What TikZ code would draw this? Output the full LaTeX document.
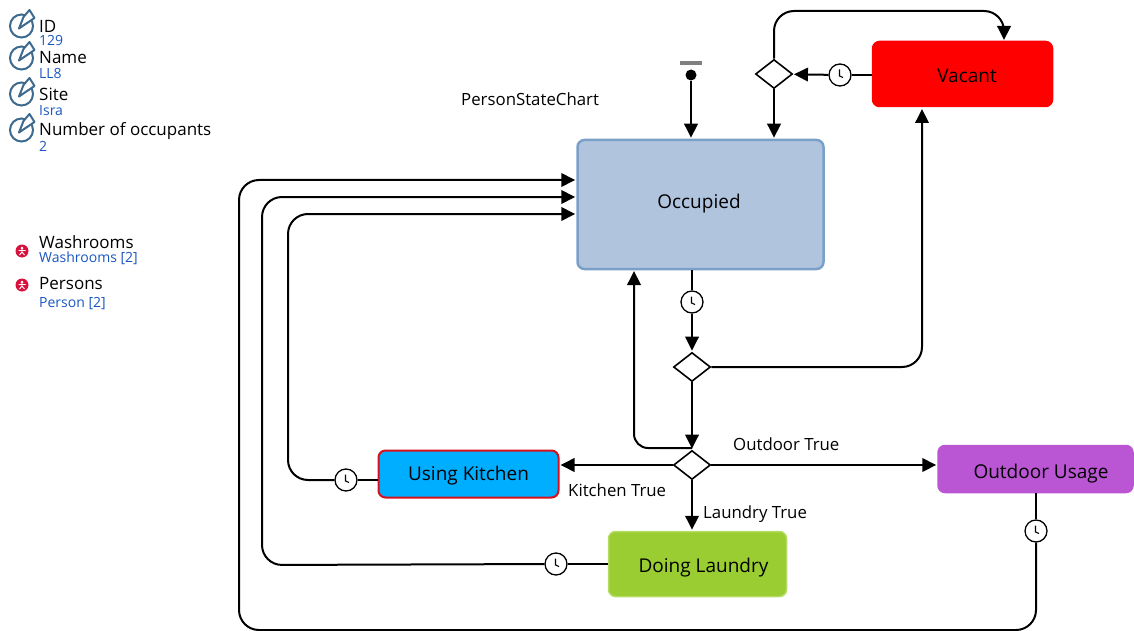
\documentclass[tikz,border=0pt]{standalone}
\usepackage{fontspec}
\setmainfont{Open Sans}
\usepackage{tikz}
\usetikzlibrary{shapes.geometric, arrows.meta}

\definecolor{occfill}{HTML}{B0C4DE}
\definecolor{occline}{HTML}{7BA0C8}
\definecolor{kitfill}{HTML}{00AEFF}
\definecolor{kitline}{HTML}{D8101C}
\definecolor{laufill}{HTML}{9ACD32}
\definecolor{lauline}{HTML}{B4DC64}
\definecolor{outfill}{HTML}{BA55D3}
\definecolor{iconblue}{HTML}{3D6A8F}
\definecolor{valblue}{HTML}{1A56C0}
\definecolor{agentred}{HTML}{D8103C}

\begin{document}
\begin{tikzpicture}[
            x=1pt, y=-1pt,
            >={Triangle[length=14pt, width=13.5pt]},
            % Styles
            state/.style={rectangle, draw, rounded corners=7pt, line width=1.5pt, align=center, inner sep=0pt, font=\fontsize{19}{22}\selectfont},
            choice/.style={diamond, draw, fill=white, line width=1.6pt, inner sep=0pt, minimum width=37pt, minimum height=29pt},
            timer/.style={circle, draw, fill=white, line width=1.3pt, inner sep=0pt, minimum size=22pt,
                path picture={\draw [line width=1.1pt] ([xshift=-0.5pt, yshift=5.5pt]path picture bounding box.center) -- ([xshift=-0.5pt, yshift=-1pt]path picture bounding box.center) -- ([xshift=3pt, yshift=-2.5pt]path picture bounding box.center);}},
            arrow/.style={line width=2pt, ->, shorten >=1pt},
            link/.style={line width=2pt, rounded corners=20pt},
            attr/.style={anchor=west, inner sep=0pt, font=\fontsize{17}{20}\selectfont},
            attrval/.style={anchor=west, inner sep=0pt, text=valblue, font=\fontsize{14}{16}\selectfont},
            tag/.style={anchor=west, inner sep=0pt, font=\fontsize{16.8}{19}\selectfont},
            attricon/.pic={
                \draw [iconblue, line width=2pt] (0,0) circle (11.5pt);
                \draw [iconblue, line width=2pt, fill=white, line join=round] (-2.5,2.5) -- (2,-9) -- (8,-16) -- (13,-8) -- cycle;
            },
            agenticon/.pic={
                \fill [agentred] (0,0) circle (6.5pt);
                \fill [white] (0,-3) circle (1.5pt);
                \draw [white, line width=0.9pt] (-3.5,-0.5) -- (3.5,-0.5) (0,-2) -- (0,1) (-2.5,4) -- (0,1) -- (2.5,4);
            }
        ]
        \useasboundingbox (0,0) rectangle (1134,631);

        % --- ATTRIBUTES ---
        \foreach \k/\yi/\yl/\yv/\attrname/\attrtext in {id/26/26/41/ID/129, name/58/58/74/Name/LL8, site/94/94.5/111/Site/Isra, occ/130/131.5/146.5/Number of occupants/2} {
            \pic at (21.5,\yi) {attricon};
            \node (attr\k) [attr] at (39,\yl) {\attrname};
            \node (val\k) [attrval] at (39,\yv) {\attrtext};
        }

        % --- AGENTS ---
        \foreach \k/\yi/\yl/\yv/\attrname/\attrtext in {wash/251/242.5/258/Washrooms/Washrooms [2], pers/285/284/304/Persons/Person [2]} {
            \pic at (22,\yi) {agenticon};
            \node (agent\k) [attr] at (39,\yl) {\attrname};
            \node (count\k) [attrval] at (39,\yv) {\attrtext};
        }

        \node (title) [tag] at (461,99) {PersonStateChart};

        % --- STATES ---
        \node (occupied) [state, fill=occfill, draw=occline, line width=2.5pt, minimum width=246pt, minimum height=129pt] at (700.5,204.5) {\hspace{-3pt}\raisebox{-4pt}[0pt][0pt]{Occupied}};
        \node (vacant) [state, fill=red, draw=red, minimum width=180pt, minimum height=65pt] at (962.5,74) {\hspace{9pt}\raisebox{-8.5pt}[0pt][0pt]{Vacant}};
        \node (kitchen) [state, fill=kitfill, draw=kitline, line width=2pt, minimum width=180pt, minimum height=47pt] at (468.5,474) {\raisebox{-6.5pt}[0pt][0pt]{Using Kitchen}};
        \node (laundry) [state, fill=laufill, draw=lauline, minimum width=178pt, minimum height=65pt] at (697.5,564) {\hspace{12pt}\raisebox{-8.5pt}[0pt][0pt]{Doing Laundry}};
        \node (outdoor) [state, fill=outfill, draw=outfill, minimum width=195pt, minimum height=47pt] at (1035.5,469) {\hspace{11pt}\raisebox{-9.5pt}[0pt][0pt]{Outdoor Usage}};

        % --- PSEUDO STATES ---
        \node (initbar) [rectangle, fill=black!50, inner sep=0pt, minimum width=22pt, minimum height=4.5pt] at (691,63) {};
        \node (initdot) [circle, fill=black, inner sep=0pt, minimum size=11pt] at (691,75) {};
        \node (topchoice) [choice] at (774,74) {};
        \node (midchoice) [choice] at (692,367) {};
        \node (lowchoice) [choice] at (692,465) {};

        % --- TIMERS ---
        \node (vacclock) [timer] at (840,75) {};
        \node (occclock) [timer] at (692,302) {};
        \node (kitclock) [timer] at (346,480) {};
        \node (lauclock) [timer] at (556,564) {};
        \node (outclock) [timer] at (1036,531) {};

        % --- MAIN FLOW CONNECTIONS ---
        \draw [arrow] (initdot) -- (initdot |- occupied.north);
        \draw [link] (vacant.west |- vacclock) -- (vacclock);
        \draw [arrow] (vacclock) -- (topchoice);
        \draw [arrow] (topchoice) -- (topchoice |- occupied.north);
        \draw [arrow, rounded corners=20pt] (topchoice.north) -- (774,11) -- (1004,11) -- (1004,41);

        \draw [link] (occclock |- occupied.south) -- (occclock);
        \draw [arrow] (occclock) -- (midchoice);
        \draw [arrow] (midchoice) -- (lowchoice.north);
        \draw [arrow, rounded corners=20pt] (midchoice.east) -- (922,367) -- (922,108);
        \draw [arrow, rounded corners=14pt] (692,448) -- (634,448) -- (634,270);

        % --- BRANCHES ---
        \draw [arrow] (lowchoice) -- (kitchen.east |- lowchoice);
        \draw [arrow] (lowchoice) -- (outdoor.west |- lowchoice);
        \draw [arrow] (lowchoice) -- (lowchoice |- laundry.north);

        % --- RETURNS TO OCCUPIED ---
        \draw [link] (kitchen.west |- kitclock) -- (kitclock);
        \draw [arrow, rounded corners=20pt] (kitclock) -- (288,480) -- (288,214) -- (occupied.west |- 0,214);
        \draw [link] (laundry.west |- lauclock) -- (lauclock);
        \draw [arrow, rounded corners=20pt] (lauclock) -- (262,565) -- (262,197) -- (occupied.west |- 0,197);
        \draw [link] (outdoor.south -| outclock) -- (outclock);
        \draw [arrow, rounded corners=20pt] (outclock) -- (1036,630) -- (239,630) -- (239,180) -- (occupied.west |- 0,180);

        % --- GUARD LABELS ---
        \node (outguard) [tag] at (733,444) {Outdoor True};
        \node (kitguard) [tag] at (568,490) {Kitchen True};
        \node (lauguard) [tag] at (703,514) {Laundry True};
\end{tikzpicture}
\end{document}
